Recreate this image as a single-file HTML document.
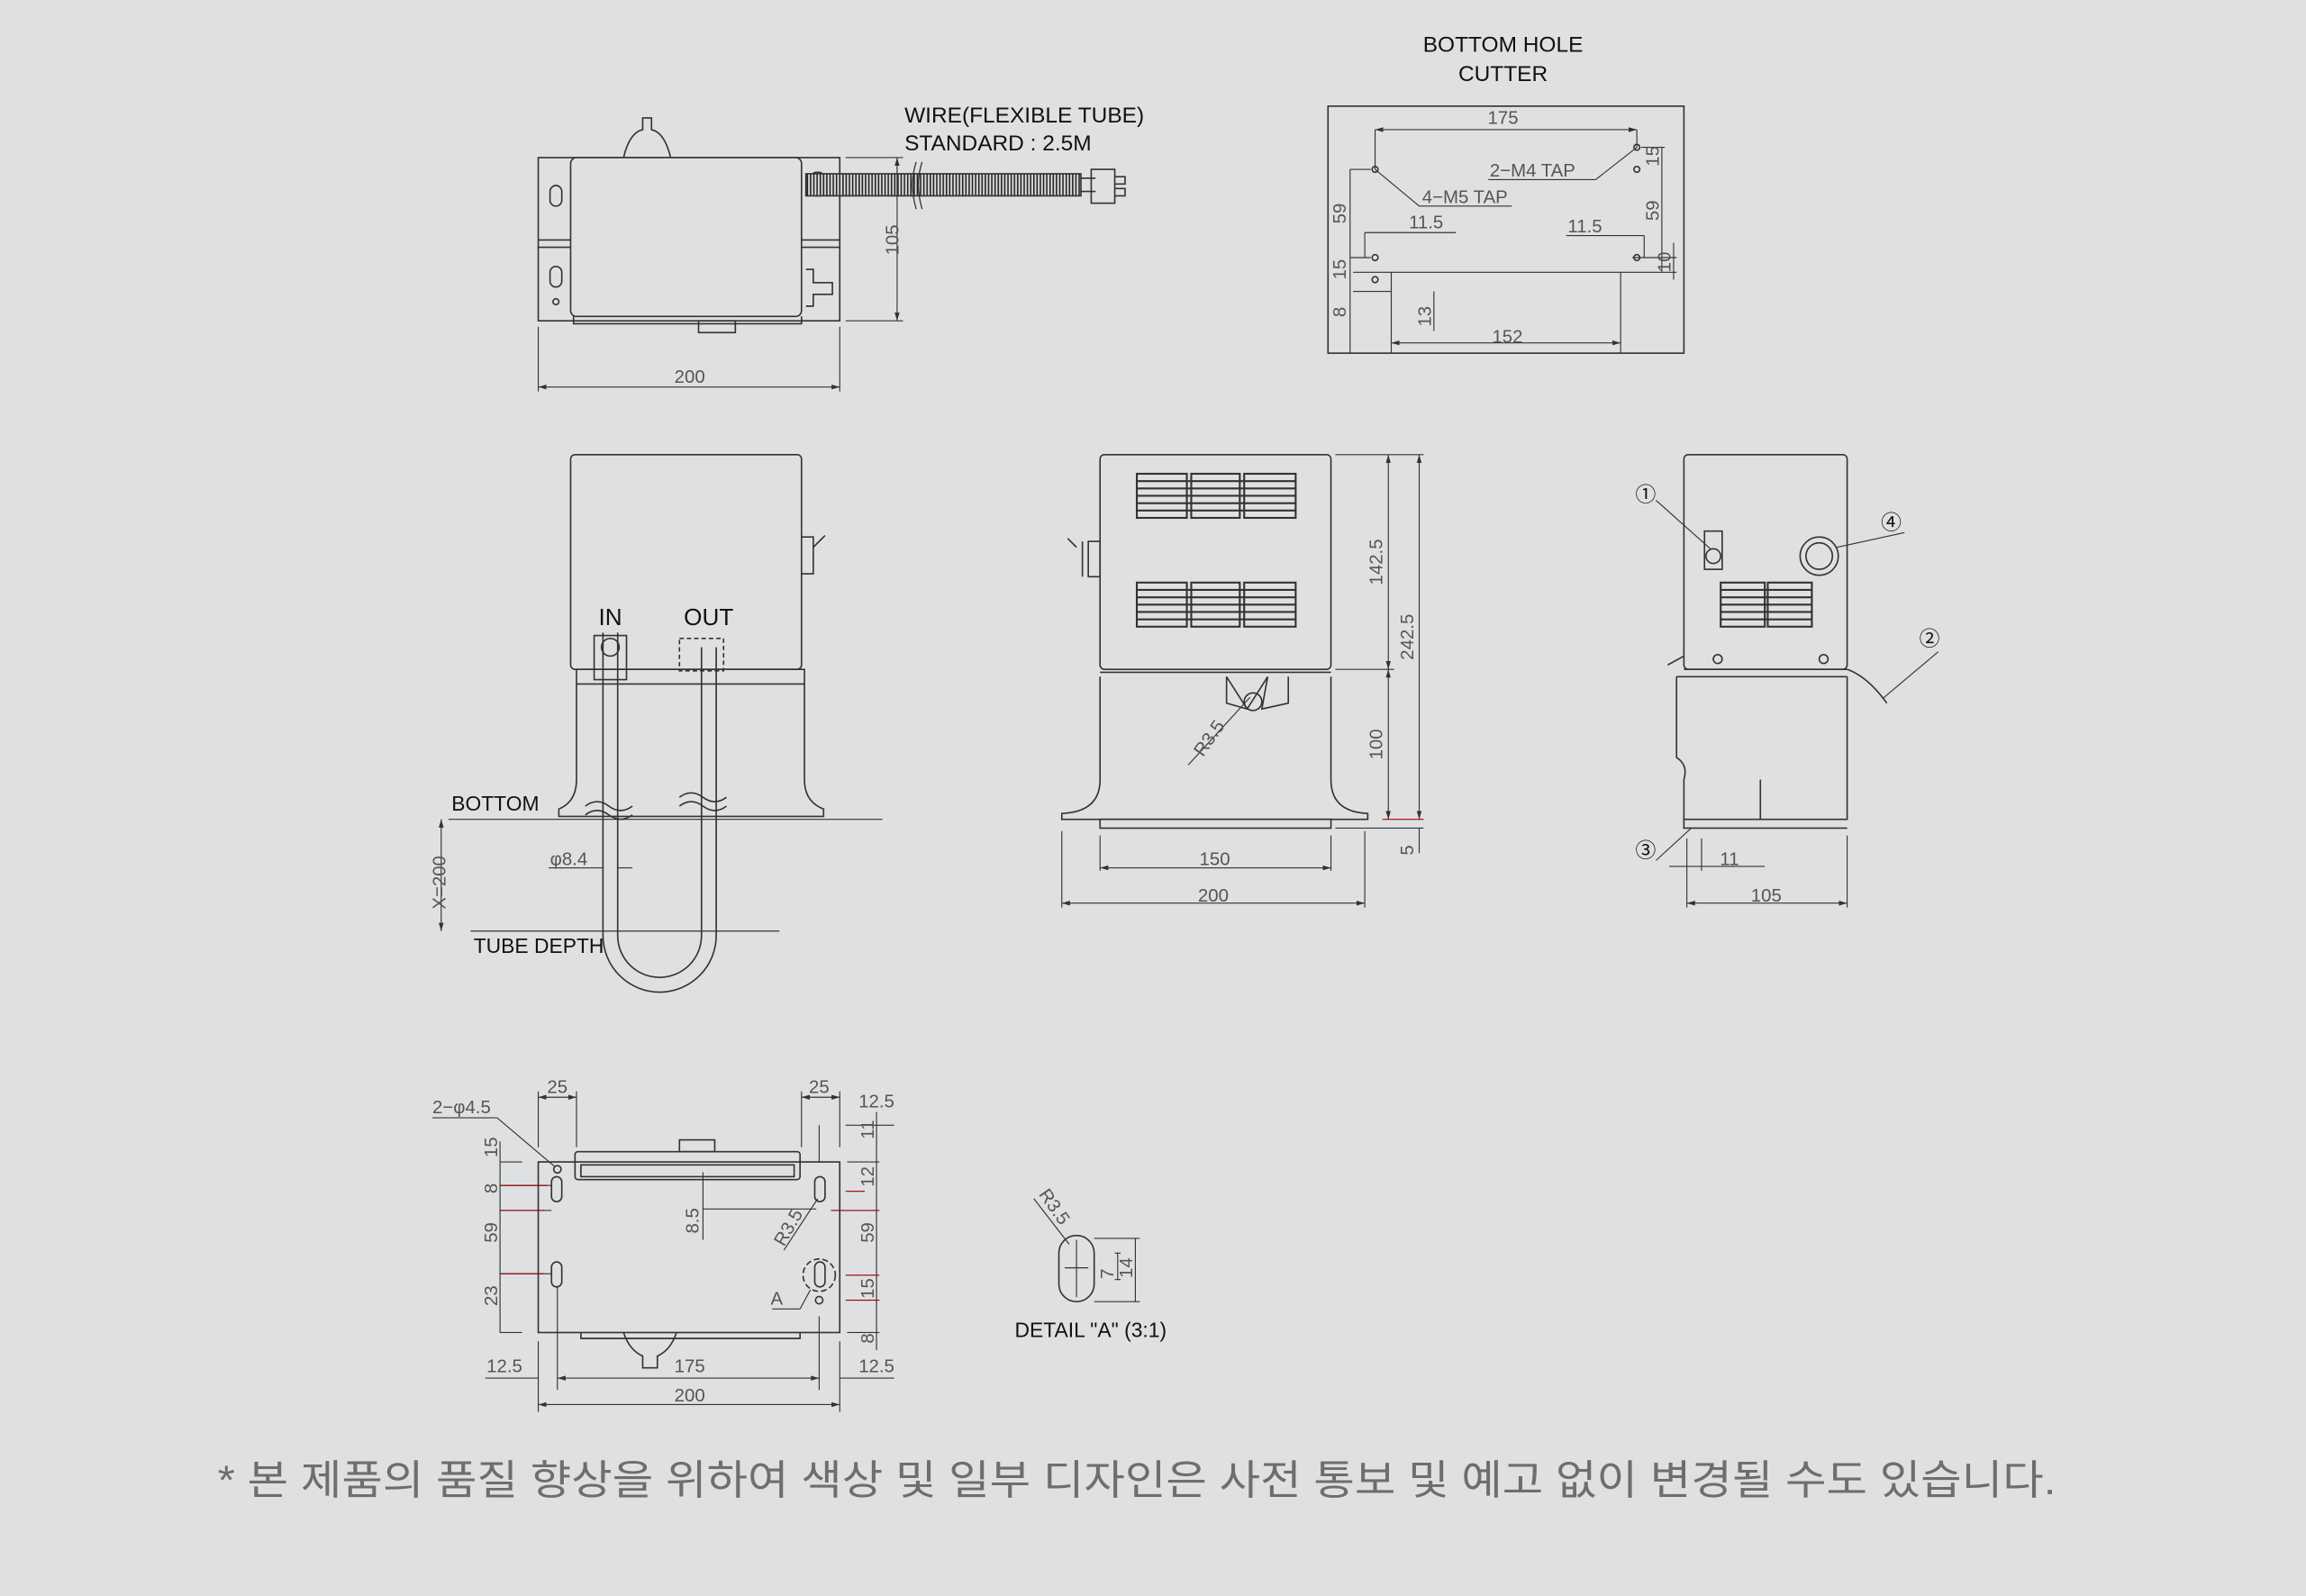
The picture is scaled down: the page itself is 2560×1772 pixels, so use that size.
<!DOCTYPE html>
<html><head><meta charset="utf-8"><style>
html,body{margin:0;padding:0;background:#dfe0e2;}
svg{display:block}
text{font-family:"Liberation Sans","Noto Sans CJK KR",sans-serif;}
.d{font-size:12.5px;fill:#555;}
.l{font-size:15px;fill:#111;}
</style></head><body>
<svg width="2560" height="1772" viewBox="0 0 1568 1085" xmlns="http://www.w3.org/2000/svg">
<defs>
<marker id="a" viewBox="0 0 10 6" refX="10" refY="3" markerWidth="8" markerHeight="5" orient="auto-start-reverse"><path d="M0,0L10,3L0,6z" fill="#333"/></marker>
<pattern id="cor" width="2.2" height="15" patternUnits="userSpaceOnUse" x="548" y="118"><rect width="2.2" height="15" fill="#dfe0e2"/><line x1="1" y1="0" x2="1" y2="15" stroke="#222" stroke-width="1"/></pattern>
</defs>
<rect width="1568" height="1085" fill="#dfe0e2"/>
<g fill="none" stroke="#333" stroke-width="1">

<!-- ===== TOP-LEFT VIEW ===== -->
<rect x="366" y="107" width="205" height="111"/>
<line x1="366" y1="163" x2="571" y2="163"/><line x1="366" y1="168" x2="571" y2="168"/>
<rect x="388" y="107" width="157" height="108" rx="4" fill="#dfe0e2"/>
<path d="M390,215 L390,220 L545,220 L545,215"/>
<rect x="475" y="218" width="25" height="8"/>
<rect x="374" y="126" width="8" height="14" rx="4"/><rect x="374" y="181" width="8" height="14" rx="4"/>
<circle cx="378" cy="205" r="2"/>
<path d="M424,107 Q428,90 437,88 L437,80 L443,80 L443,88 Q452,90 456,107"/>
<path d="M548,183 L553,183 L553,192 L566,192 L566,200 L553,200 L553,208 L548,208"/>
<rect x="552" y="117" width="8" height="16" rx="3"/>
<rect x="548" y="118" width="187" height="15" fill="url(#cor)"/>
<line x1="735" y1="121" x2="745" y2="121"/><line x1="735" y1="130" x2="745" y2="130"/>
<rect x="742" y="115" width="16" height="23"/>
<path d="M758,120 h7 v5 h-7 M758,128 h7 v5 h-7"/>
<path d="M623,110 Q618,125 623,142 M627,110 Q622,125 627,142" stroke-width="0.8"/>
<line x1="575" y1="107" x2="614" y2="107" stroke-width="0.7"/><line x1="575" y1="218" x2="614" y2="218" stroke-width="0.7"/>
<line x1="610" y1="107" x2="610" y2="218" marker-start="url(#a)" marker-end="url(#a)" stroke-width="0.7"/>
<line x1="366" y1="222" x2="366" y2="266" stroke-width="0.7"/><line x1="571" y1="222" x2="571" y2="266" stroke-width="0.7"/>
<line x1="366" y1="263" x2="571" y2="263" marker-start="url(#a)" marker-end="url(#a)" stroke-width="0.7"/>

<!-- ===== BOTTOM HOLE CUTTER ===== -->
<rect x="903" y="72" width="242" height="168"/>
<g stroke-width="0.7">
<line x1="935" y1="88" x2="1113" y2="88" marker-start="url(#a)" marker-end="url(#a)"/>
<line x1="935" y1="88" x2="935" y2="115"/><line x1="1113" y1="88" x2="1113" y2="100"/>
<path d="M946,240 V185 H1102 V240"/>
<path d="M920,185 H946 M920,198 H946 M1102,185 H1140 M1110,175 H1140"/>
<line x1="946" y1="233" x2="1102" y2="233" marker-start="url(#a)" marker-end="url(#a)"/>
<line x1="918" y1="115" x2="918" y2="240"/>
<line x1="918" y1="175" x2="932" y2="175"/><line x1="918" y1="115" x2="932" y2="115"/>
<line x1="1130" y1="100" x2="1130" y2="185"/><line x1="1116" y1="100" x2="1132" y2="100"/>
<line x1="1138" y1="165" x2="1138" y2="190"/>
<line x1="928" y1="158" x2="990" y2="158"/><line x1="928" y1="158" x2="928" y2="175"/>
<line x1="1065" y1="160" x2="1118" y2="160"/><line x1="1118" y1="160" x2="1118" y2="175"/>
<line x1="975" y1="198" x2="975" y2="225"/>
<line x1="935" y1="115" x2="965" y2="140"/><line x1="965" y1="140" x2="1028" y2="140"/>
<line x1="1113" y1="100" x2="1085" y2="122"/><line x1="1085" y1="122" x2="1012" y2="122"/>
</g>
<circle cx="935" cy="115" r="2"/><circle cx="1113" cy="100" r="2"/><circle cx="1113" cy="115" r="2"/>
<circle cx="935" cy="175" r="2"/><circle cx="935" cy="190" r="2"/><circle cx="1113" cy="175" r="2"/>

<!-- ===== MIDDLE-LEFT VIEW ===== -->
<rect x="388" y="309" width="157" height="146" rx="3"/>
<path d="M392,455 H547 V465 H392 Z"/>
<path d="M392,465 V530 Q392,545 380,550 V555 H560 V550 Q547,545 547,530 V465"/>
<path d="M545,365 h8 v25 h-8 M553,372 l8,-8"/>
<path d="M410,430 V636 A38.5,38.5 0 0 0 487,636 V440 M420,430 V636 A28.5,28.5 0 0 0 477,636 V440"/>
<circle cx="415" cy="440" r="6"/><rect x="404" y="432" width="22" height="30"/>
<rect x="462" y="434" width="30" height="22" stroke-dasharray="3 2"/>
<path d="M398,548 q8,-6 16,0 q8,6 16,0 M398,554 q8,-6 16,0 q8,6 16,0 M462,542 q8,-6 16,0 q8,6 16,0 M462,548 q8,-6 16,0 q8,6 16,0"/>
<g stroke-width="0.7">
<line x1="305" y1="557" x2="600" y2="557"/>
<line x1="300" y1="557" x2="300" y2="633" marker-start="url(#a)" marker-end="url(#a)"/>
<line x1="320" y1="633" x2="530" y2="633"/>
<line x1="373" y1="590" x2="410" y2="590"/><line x1="420" y1="590" x2="430" y2="590"/>
</g>

<!-- ===== MIDDLE-CENTER VIEW ===== -->
<rect x="748" y="309" width="157" height="146" rx="3"/>
<g stroke-width="1.3">
<rect x="773" y="322" width="34" height="30"/><rect x="810" y="322" width="33" height="30"/><rect x="846" y="322" width="35" height="30"/>
<rect x="773" y="396" width="34" height="30"/><rect x="810" y="396" width="33" height="30"/><rect x="846" y="396" width="35" height="30"/>
<path d="M773,327H881M773,332H881M773,337H881M773,342H881M773,347H881M773,401H881M773,406H881M773,411H881M773,416H881M773,421H881"/>
</g>
<path d="M740,368 h8 v24 h-8 z M736,368 v24 M732,372 l-6,-6"/>
<path d="M748,457 H905 M748,460 V530 Q748,552 722,553 V557 H930 V553 Q905,552 905,530 V460"/>
<rect x="748" y="557" width="157" height="6"/>
<path d="M834,460 V478 L848,482 L862,460 M834,460 L848,482 M876,460 V478 L858,482 L862,460"/>
<circle cx="852" cy="477" r="6"/>
<g stroke-width="0.7">
<line x1="850" y1="474" x2="808" y2="520"/>
<line x1="908" y1="309" x2="968" y2="309"/><line x1="908" y1="455" x2="948" y2="455"/>
<line x1="944" y1="309" x2="944" y2="455" marker-start="url(#a)" marker-end="url(#a)"/>
<line x1="944" y1="455" x2="944" y2="557" marker-start="url(#a)" marker-end="url(#a)"/>
<line x1="965" y1="309" x2="965" y2="557" marker-start="url(#a)" marker-end="url(#a)"/>
<line x1="965" y1="563" x2="965" y2="580"/>
<line x1="940" y1="557" x2="968" y2="557" stroke="#a00"/>
<line x1="908" y1="563" x2="968" y2="563"/>
<line x1="748" y1="568" x2="748" y2="592"/><line x1="905" y1="568" x2="905" y2="592"/>
<line x1="748" y1="590" x2="905" y2="590" marker-start="url(#a)" marker-end="url(#a)"/>
<line x1="722" y1="565" x2="722" y2="617"/><line x1="928" y1="565" x2="928" y2="617"/>
<line x1="722" y1="614" x2="928" y2="614" marker-start="url(#a)" marker-end="url(#a)"/>
</g>

<!-- ===== MIDDLE-RIGHT VIEW ===== -->
<rect x="1145" y="309" width="111" height="146" rx="3"/>
<rect x="1159" y="361" width="12" height="26"/><circle cx="1165" cy="378" r="5"/>
<circle cx="1237" cy="378" r="13"/><circle cx="1237" cy="378" r="9"/>
<g stroke-width="1.3">
<rect x="1170" y="396" width="30" height="30"/><rect x="1202" y="396" width="30" height="30"/>
<path d="M1170,401H1232M1170,406H1232M1170,411H1232M1170,416H1232M1170,421H1232"/>
</g>
<circle cx="1168" cy="448" r="3"/><circle cx="1240" cy="448" r="3"/>
<path d="M1145,455 H1256 M1140,460 V515 Q1148,520 1145,530 V557 H1256 V460 M1140,460 H1256"/>
<path d="M1145,557 V563 H1256 M1134,452 L1145,446 M1256,455 Q1270,460 1283,478"/>
<line x1="1197" y1="530" x2="1197" y2="557"/>
<g stroke-width="0.7">
<line x1="1126" y1="340" x2="1163" y2="373"/>
<line x1="1295" y1="362" x2="1249" y2="372"/>
<line x1="1318" y1="443" x2="1280" y2="475"/>
<line x1="1126" y1="585" x2="1150" y2="563"/>
<line x1="1147" y1="570" x2="1147" y2="617"/><line x1="1256" y1="568" x2="1256" y2="617"/>
<line x1="1147" y1="614" x2="1256" y2="614" marker-start="url(#a)" marker-end="url(#a)"/>
<line x1="1135" y1="589" x2="1200" y2="589"/>
<line x1="1157" y1="570" x2="1157" y2="592"/>
</g>

<!-- ===== BOTTOM VIEW ===== -->
<rect x="366" y="790" width="205" height="116"/>
<rect x="391" y="783" width="153" height="19" rx="2"/>
<rect x="395" y="792" width="145" height="8"/>
<rect x="462" y="775" width="24" height="8"/>
<path d="M395,906 V910 H544 V906 M424,906 Q428,918 437,922 L437,930 L447,930 L447,922 Q456,918 460,906"/>
<circle cx="379" cy="795" r="2.5"/><circle cx="557" cy="884" r="2.5"/>
<rect x="375" y="800" width="7" height="17" rx="3.5"/><rect x="375" y="858" width="7" height="17" rx="3.5"/>
<rect x="554" y="800" width="7" height="17" rx="3.5"/><rect x="554" y="858" width="7" height="17" rx="3.5"/>
<circle cx="557" cy="867" r="11" stroke-dasharray="4 2"/>
<g stroke-width="0.7">
<line x1="294" y1="760" x2="338" y2="760"/><line x1="338" y1="760" x2="377" y2="793"/>
<line x1="366" y1="742" x2="366" y2="780"/><line x1="392" y1="742" x2="392" y2="780"/>
<line x1="366" y1="746" x2="392" y2="746" marker-start="url(#a)" marker-end="url(#a)"/>
<line x1="545" y1="742" x2="545" y2="780"/><line x1="571" y1="742" x2="571" y2="780"/>
<line x1="545" y1="746" x2="571" y2="746" marker-start="url(#a)" marker-end="url(#a)"/>
<line x1="557" y1="765" x2="557" y2="790"/><line x1="575" y1="765" x2="608" y2="765"/>
<line x1="340" y1="776" x2="340" y2="906"/>
<path d="M340,790H355 M340,806H375 M340,823H375 M340,866H375 M340,906H355" />
<path d="M340,806H372 M340,823H370 M340,866H370 M575,810H588 M565,823H598 M575,867H598 M575,884H598" stroke="#900"/>
<line x1="596" y1="756" x2="596" y2="918"/>
<path d="M576,790H598 M576,906H598"/>
<line x1="478" y1="797" x2="478" y2="843"/><line x1="478" y1="822" x2="555" y2="822"/>
<line x1="556" y1="815" x2="533" y2="850"/>
<line x1="525" y1="890" x2="544" y2="890"/><line x1="544" y1="890" x2="551" y2="877"/>
<line x1="379" y1="875" x2="379" y2="945"/><line x1="557" y1="895" x2="557" y2="945"/>
<line x1="366" y1="912" x2="366" y2="960"/><line x1="571" y1="912" x2="571" y2="960"/>
<line x1="330" y1="937" x2="366" y2="937"/><line x1="379" y1="937" x2="557" y2="937" marker-start="url(#a)" marker-end="url(#a)"/><line x1="571" y1="937" x2="608" y2="937"/>
<line x1="366" y1="955" x2="571" y2="955" marker-start="url(#a)" marker-end="url(#a)"/>
</g>

<!-- ===== DETAIL A ===== -->
<rect x="720" y="840" width="24" height="45" rx="12"/>
<line x1="732" y1="843" x2="732" y2="882" stroke-width="0.7"/>
<line x1="724" y1="862" x2="740" y2="862" stroke-width="0.7"/>
<g stroke-width="0.7">
<line x1="703" y1="815" x2="727" y2="846"/>
<path d="M744,842 H775 M744,885 H775 M758,852 H762 M758,870 H762"/>
<line x1="760" y1="852" x2="760" y2="870"/><line x1="772" y1="842" x2="772" y2="885"/>
</g>
</g>

<!-- ===== TEXT ===== -->
<g class="l">
<text x="615" y="83">WIRE(FLEXIBLE TUBE)</text>
<text x="615" y="102">STANDARD : 2.5M</text>
<text x="1022" y="35" text-anchor="middle">BOTTOM HOLE</text>
<text x="1022" y="55" text-anchor="middle">CUTTER</text>
<text x="307" y="551" font-size="14">BOTTOM</text>
<text x="322" y="648" font-size="14">TUBE DEPTH</text>
<text x="407" y="425" font-size="16">IN</text>
<text x="465" y="425" font-size="16">OUT</text>
<text x="690" y="909" font-size="14">DETAIL "A" (3:1)</text>
</g>
<g class="d">
<text x="469" y="260" text-anchor="middle">200</text>
<text transform="translate(611,163) rotate(-90)" text-anchor="middle">105</text>
<text x="1022" y="84" text-anchor="middle">175</text>
<text x="1013" y="120">2−M4  TAP</text>
<text x="967" y="138">4−M5  TAP</text>
<text x="958" y="155">11.5</text>
<text x="1066" y="158">11.5</text>
<text x="1025" y="233" text-anchor="middle">152</text>
<text transform="translate(915,145) rotate(-90)" text-anchor="middle">59</text>
<text transform="translate(915,183) rotate(-90)" text-anchor="middle">15</text>
<text transform="translate(915,212) rotate(-90)" text-anchor="middle">8</text>
<text transform="translate(973,215) rotate(-90)" text-anchor="middle">13</text>
<text transform="translate(1128,106) rotate(-90)" text-anchor="middle">15</text>
<text transform="translate(1128,143) rotate(-90)" text-anchor="middle">59</text>
<text transform="translate(1136,178) rotate(-90)" text-anchor="middle">10</text>
<text x="374" y="588">φ8.4</text>
<text transform="translate(303,600) rotate(-90)" text-anchor="middle">X=200</text>
<text transform="translate(940,382) rotate(-90)" text-anchor="middle">142.5</text>
<text transform="translate(961,433) rotate(-90)" text-anchor="middle">242.5</text>
<text transform="translate(940,506) rotate(-90)" text-anchor="middle">100</text>
<text transform="translate(961,578) rotate(-90)" text-anchor="middle">5</text>
<text transform="translate(818,515) rotate(-55)">R3.5</text>
<text x="826" y="588" text-anchor="middle">150</text>
<text x="825" y="613" text-anchor="middle">200</text>
<text x="1176" y="588" text-anchor="middle">11</text>
<text x="1201" y="613" text-anchor="middle">105</text>
<text x="1119" y="341" text-anchor="middle" font-size="14" fill="#111">①</text>
<text x="1286" y="360" text-anchor="middle" font-size="14" fill="#111">④</text>
<text x="1312" y="439" text-anchor="middle" font-size="14" fill="#111">②</text>
<text x="1119" y="583" text-anchor="middle" font-size="14" fill="#111">③</text>
<text x="294" y="757">2−φ4.5</text>
<text x="379" y="743" text-anchor="middle">25</text>
<text x="557" y="743" text-anchor="middle">25</text>
<text x="596" y="753" text-anchor="middle">12.5</text>
<text transform="translate(338,780) rotate(-90)" text-anchor="middle">15</text>
<text transform="translate(338,808) rotate(-90)" text-anchor="middle">8</text>
<text transform="translate(338,838) rotate(-90)" text-anchor="middle">59</text>
<text transform="translate(338,881) rotate(-90)" text-anchor="middle">23</text>
<text transform="translate(594,768) rotate(-90)" text-anchor="middle">11</text>
<text transform="translate(594,800) rotate(-90)" text-anchor="middle">12</text>
<text transform="translate(594,838) rotate(-90)" text-anchor="middle">59</text>
<text transform="translate(594,876) rotate(-90)" text-anchor="middle">15</text>
<text transform="translate(594,910) rotate(-90)" text-anchor="middle">8</text>
<text transform="translate(475,830) rotate(-90)" text-anchor="middle">8.5</text>
<text transform="translate(533,848) rotate(-60)">R3.5</text>
<text x="524" y="887">A</text>
<text x="343" y="933" text-anchor="middle">12.5</text>
<text x="469" y="933" text-anchor="middle">175</text>
<text x="596" y="933" text-anchor="middle">12.5</text>
<text x="469" y="953" text-anchor="middle">200</text>
<text transform="translate(706,812) rotate(55)">R3.5</text>
<text transform="translate(757,866) rotate(-90)" text-anchor="middle">7</text>
<text transform="translate(770,862) rotate(-90)" text-anchor="middle">14</text>
</g>
<text x="148" y="1016" font-size="28" fill="#6e6e6e" textLength="1250" lengthAdjust="spacingAndGlyphs" style="font-family:'Liberation Sans','Noto Sans CJK KR',sans-serif">* 본 제품의 품질 향상을 위하여 색상 및 일부 디자인은 사전 통보 및 예고 없이 변경될 수도 있습니다.</text>
</svg>
</body></html>
